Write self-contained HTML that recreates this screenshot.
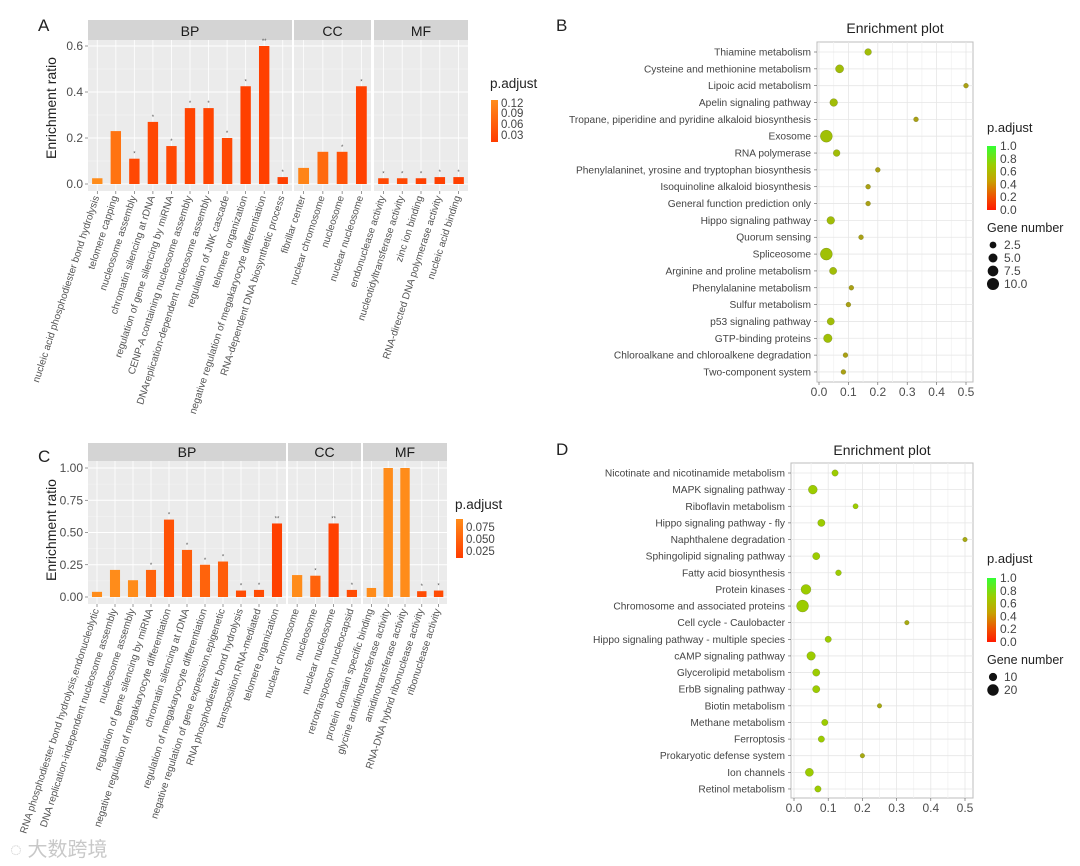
<!DOCTYPE html>
<html><head><meta charset="utf-8"><style>
body{margin:0;background:#fff;width:1080px;height:866px;overflow:hidden;font-family:"Liberation Sans","Noto Sans CJK SC",sans-serif}
svg{display:block}
</style></head><body>
<svg id="fig" width="1080" height="866" font-family="Liberation Sans, Noto Sans CJK SC, sans-serif">
<defs>
<linearGradient id="gA" x1="0" y1="0" x2="0" y2="1"><stop offset="0" stop-color="#ff8c1a"/><stop offset="1" stop-color="#ff3c00"/></linearGradient>
<linearGradient id="gG" x1="0" y1="0" x2="0" y2="1"><stop offset="0" stop-color="#33ff33"/><stop offset="0.3" stop-color="#9ccc00"/><stop offset="0.55" stop-color="#c8a000"/><stop offset="0.8" stop-color="#f05000"/><stop offset="1" stop-color="#ff1a00"/></linearGradient>
</defs>
<text x="38" y="31" font-size="17" fill="#222">A</text>
<text x="38" y="462" font-size="17" fill="#222">C</text>
<text x="556" y="31" font-size="17" fill="#222">B</text>
<text x="556" y="455" font-size="17" fill="#222">D</text>
<text x="10" y="856" font-size="20" fill="#c8c8c8">◌ 大数跨境</text>
</svg>
<script>
// ---- Panel A data ----
const aCats=[["nucleic acid phosphodiester bond hydrolysis","telomere capping","nucleosome assembly","chromatin silencing at rDNA","regulation of gene silencing by miRNA","CENP-A containing nucleosome assembly","DNAreplication-dependent nucleosome assembly","regulation of JNK cascade","telomere organization","negative regulation of megakaryocyte differentiation","RNA-dependent DNA biosynthetic process"],["fibrillar center","nuclear chromosome","nucleosome","nuclear nucleosome"],["endonuclease activity","nucleotidyltransferase activity","zinc ion binding","RNA-directed DNA polymerase activity","nucleic acid binding"]];
const aVals=[[0.025,0.23,0.11,0.27,0.165,0.33,0.33,0.2,0.425,0.6,0.03],[0.07,0.14,0.14,0.425],[0.025,0.025,0.025,0.03,0.03]];
const aPadj=[[0.12,0.09,0.04,0.04,0.04,0.035,0.035,0.04,0.03,0.02,0.03],[0.11,0.08,0.05,0.03],[0.04,0.04,0.03,0.03,0.03]];
const aTicks=[0,0.2,0.4,0.6];
const aTickLabels=["0.0","0.2","0.4","0.6"];
// ---- Panel C data ----
const cCats=[["RNA phosphodiester bond hydrolysis,endonucleolytic","DNA replication-independent nucleosome assembly","nucleosome assembly","regulation of gene silencing by miRNA","negative regulation of megakaryocyte differentiation","chromatin silencing at rDNA","regulation of megakaryocyte differentiation","negative regulation of gene expression,epigenetic","RNA phosphodiester bond hydrolysis","transposition,RNA-mediated","telomere organization"],["nuclear chromosome","nucleosome","nuclear nucleosome","retrotransposon nucleocapsid"],["protein domain specific binding","glycine amidinotransferase activity","amidinotransferase activity","RNA-DNA hybrid ribonuclease activity","ribonuclease activity"]];
const cVals=[[0.04,0.21,0.13,0.21,0.6,0.365,0.25,0.275,0.05,0.055,0.57],[0.17,0.165,0.57,0.055],[0.07,1.0,1.0,0.045,0.05]];
const cPadj=[[0.085,0.085,0.085,0.05,0.035,0.045,0.05,0.045,0.03,0.03,0.02],[0.085,0.05,0.02,0.03],[0.085,0.085,0.085,0.03,0.03]];
const cTicks=[0,0.25,0.5,0.75,1.0];
const cTickLabels=["0.00","0.25","0.50","0.75","1.00"];
const facetNames=["BP","CC","MF"];
// ---- Panel B data ----
const bTerms=["Thiamine metabolism","Cysteine and methionine metabolism","Lipoic acid metabolism","Apelin signaling pathway","Tropane, piperidine and pyridine alkaloid biosynthesis","Exosome","RNA polymerase","Phenylalaninet, yrosine and tryptophan biosynthesis","Isoquinoline alkaloid biosynthesis","General function prediction only","Hippo signaling pathway","Quorum sensing","Spliceosome","Arginine and proline metabolism","Phenylalanine metabolism","Sulfur metabolism","p53 signaling pathway","GTP-binding proteins","Chloroalkane and chloroalkene degradation","Two-component system"];
const bRatio=[0.167,0.07,0.5,0.05,0.33,0.025,0.06,0.2,0.167,0.167,0.04,0.143,0.025,0.048,0.11,0.1,0.04,0.03,0.09,0.083];
const bCount=[2.5,4,1,3.5,1,10,2.5,1,1,1,3.5,1,10,3,1,1,3,4.5,1,1];
const bPadj=[0.65,0.65,0.55,0.65,0.55,0.66,0.65,0.55,0.55,0.55,0.65,0.55,0.66,0.65,0.55,0.55,0.65,0.66,0.55,0.55];
// ---- Panel D data ----
const dTerms=["Nicotinate and nicotinamide metabolism","MAPK signaling pathway","Riboflavin metabolism","Hippo signaling pathway - fly","Naphthalene degradation","Sphingolipid signaling pathway","Fatty acid biosynthesis","Protein kinases","Chromosome and associated proteins","Cell cycle - Caulobacter","Hippo signaling pathway - multiple species","cAMP signaling pathway","Glycerolipid metabolism","ErbB signaling pathway","Biotin metabolism","Methane metabolism","Ferroptosis","Prokaryotic defense system","Ion channels","Retinol metabolism"];
const dRatio=[0.12,0.055,0.18,0.08,0.5,0.065,0.13,0.035,0.025,0.33,0.1,0.05,0.065,0.065,0.25,0.09,0.08,0.2,0.045,0.07];
const dCount=[6,12,4,8,3,8,5,15,22,3,6,11,8,8,3,6,6,3,10,6];
const dPadj=[0.7,0.7,0.7,0.7,0.58,0.7,0.7,0.7,0.7,0.58,0.7,0.7,0.7,0.7,0.58,0.7,0.7,0.58,0.7,0.7];

const NS="http://www.w3.org/2000/svg";
const svg=document.getElementById('fig');
function mk(tag,attrs,parent,txt){const e=document.createElementNS(NS,tag);for(const k in attrs)e.setAttribute(k,attrs[k]);if(txt!==undefined)e.textContent=txt;(parent||svg).appendChild(e);return e;}
function lerp(a,b,t){return Math.round(a+(b-a)*t);}
function orangeColor(p,pmin,pmax){let t=Math.max(0,Math.min(1,(p-pmin)/(pmax-pmin)));return `rgb(255,${lerp(64,140,t)},${lerp(0,26,t)})`;}
function rgColor(p){const stops=[[0,[255,26,0]],[0.4,[220,110,0]],[0.55,[170,160,20]],[0.7,[156,204,0]],[1,[51,255,51]]];
 for(let i=0;i<stops.length-1;i++){const[a,ca]=stops[i],[b,cb]=stops[i+1];if(p<=b){const t=(p-a)/(b-a);return `rgb(${lerp(ca[0],cb[0],t)},${lerp(ca[1],cb[1],t)},${lerp(ca[2],cb[2],t)})`;}}return 'rgb(51,255,51)';}

function barPanel(cfg){
 const g=mk('g',{});
 
 
 const y=v=>cfg.zeroY-v*cfg.scale;
 cfg.facets.forEach((f,fi)=>{
  const strip=mk('rect',{x:f[0],y:cfg.stripTop,width:f[1]-f[0],height:cfg.plotTop-cfg.stripTop,fill:'#d4d4d4'},g);
  
  
  const st=mk('text',{x:(f[0]+f[1])/2,y:cfg.plotTop-4,'font-size':14,'text-anchor':'middle',fill:'#1a1a1a'},g,facetNames[fi]);
  
  
  const bg=mk('rect',{x:f[0],y:cfg.plotTop,width:f[1]-f[0],height:cfg.plotBottom-cfg.plotTop,fill:'#ebebeb'},g);
  
  
  for(let i=0;i<cfg.ticks.length;i++){
   mk('line',{x1:f[0],x2:f[1],y1:y(cfg.ticks[i]),y2:y(cfg.ticks[i]),stroke:'#fff','stroke-width':1},g);
   if(i<cfg.ticks.length-1){const m=(cfg.ticks[i]+cfg.ticks[i+1])/2;mk('line',{x1:f[0],x2:f[1],y1:y(m),y2:y(m),stroke:'#f5f5f5','stroke-width':0.6},g);}
  }
  const n=cfg.vals[fi].length,step=(f[1]-f[0])/n;
  cfg.vals[fi].forEach((v,i)=>{
   const cx=f[0]+(i+0.5)*step;
   mk('line',{x1:cx,x2:cx,y1:cfg.plotTop,y2:cfg.plotBottom,stroke:'#fff','stroke-width':0.8},g);
   const bw=step*0.56;
   const r=mk('rect',{x:cx-bw/2,y:y(v),width:bw,height:v*cfg.scale,fill:orangeColor(cfg.padj[fi][i],cfg.pmin,cfg.pmax)},g);
   
   
   if(cfg.padj[fi][i]<=0.05){const s=mk('text',{x:cx,y:y(v)-3,'font-size':6,'text-anchor':'middle',fill:'#555'},g,cfg.padj[fi][i]<=0.025?'**':'*');
    
    }
   mk('line',{x1:cx,x2:cx,y1:cfg.plotBottom,y2:cfg.plotBottom+3,stroke:'#555','stroke-width':0.6},g);
   const lx=cx+2,ly=cfg.plotBottom+6;
   const t=mk('text',{x:lx,y:ly,'font-size':10,'text-anchor':'end',fill:'#555',transform:`rotate(-72 ${lx} ${ly})`},g,cfg.cats[fi][i]);
   
   
  });
 });
 cfg.ticks.forEach((tv,i)=>{
  const t=mk('text',{x:cfg.facets[0][0]-5,y:y(tv)+4,'font-size':12,'text-anchor':'end',fill:'#4d4d4d'},g,cfg.tickLabels[i]);
  
  
  mk('line',{x1:cfg.facets[0][0]-3,x2:cfg.facets[0][0],y1:y(tv),y2:y(tv),stroke:'#555','stroke-width':0.6},g);
 });
 const yt=mk('text',{x:cfg.ytX,y:cfg.ytY,'font-size':14,'text-anchor':'middle',fill:'#222',transform:`rotate(-90 ${cfg.ytX} ${cfg.ytY})`},g,'Enrichment ratio');
 
 
 const lg=mk('g',{},g);
 
 
 mk('text',{x:cfg.leg.x-1,y:cfg.leg.ty,'font-size':13.5,fill:'#222'},lg,'p.adjust');
 mk('rect',{x:cfg.leg.x,y:cfg.leg.y0,width:7,height:cfg.leg.y1-cfg.leg.y0,fill:'url(#gA)'},lg);
 cfg.leg.labels.forEach((l,i)=>mk('text',{x:cfg.leg.x+10,y:cfg.leg.ly[i],'font-size':11.5,fill:'#444'},lg,l));
}

barPanel({name:'panel-a-bar-chart',cats:aCats,vals:aVals,padj:aPadj,ticks:aTicks,tickLabels:aTickLabels,
 facets:[[88,292],[294,371],[374,468]],stripTop:20,plotTop:40,plotBottom:191,zeroY:184,scale:230,pmin:0.03,pmax:0.12,ytX:56,ytY:108,
 leg:{x:491,ty:88,y0:100,y1:142,labels:["0.12","0.09","0.06","0.03"],ly:[107,117,128,139]}});
barPanel({name:'panel-c-bar-chart',cats:cCats,vals:cVals,padj:cPadj,ticks:cTicks,tickLabels:cTickLabels,
 facets:[[88,286],[288,361],[363,447]],stripTop:443,plotTop:461,plotBottom:604,zeroY:597,scale:129,pmin:0.02,pmax:0.085,ytX:56,ytY:530,
 leg:{x:456,ty:509,y0:519,y1:558,labels:["0.075","0.050","0.025"],ly:[531,543,555]}});

function dotPanel(cfg){
 const g=mk('g',{});
 
 
 const x=v=>cfg.x0+v*cfg.xs;
 const y=i=>cfg.row0+i*cfg.rowStep;
 const ttl=mk('text',{x:(cfg.left+cfg.right)/2,y:cfg.titleY,'font-size':14,'text-anchor':'middle',fill:'#222'},g,'Enrichment plot');
 
 
 const bg=mk('rect',{x:cfg.left,y:cfg.top,width:cfg.right-cfg.left,height:cfg.bottom-cfg.top,fill:'#fff',stroke:'#bdbdbd','stroke-width':1},g);
 
 
 const xt=[0,0.1,0.2,0.3,0.4,0.5];
 for(let v=0;v<=0.5001;v+=0.05){mk('line',{x1:x(v),x2:x(v),y1:cfg.top,y2:cfg.bottom,stroke:Math.abs(v*10-Math.round(v*10))<0.01?'#e6e6e6':'#f2f2f2','stroke-width':0.8},g);}
 cfg.terms.forEach((t,i)=>{
  mk('line',{x1:cfg.left,x2:cfg.right,y1:y(i),y2:y(i),stroke:'#e6e6e6','stroke-width':0.8},g);
  const lab=mk('text',{x:cfg.left-6,y:y(i)+3.5,'font-size':10.2,'text-anchor':'end',fill:'#444'},g,t);
  
  
  mk('line',{x1:cfg.left-3,x2:cfg.left,y1:y(i),y2:y(i),stroke:'#555','stroke-width':0.6},g);
 });
 cfg.terms.forEach((t,i)=>{
  const c=mk('circle',{cx:x(cfg.ratio[i]),cy:y(i),r:cfg.rf(cfg.count[i]),fill:rgColor(cfg.padj[i]),stroke:'rgba(90,100,30,0.5)','stroke-width':0.5},g);
  
  
 });
 xt.forEach(v=>{
  mk('line',{x1:x(v),x2:x(v),y1:cfg.bottom,y2:cfg.bottom+3,stroke:'#555','stroke-width':0.6},g);
  const tl=mk('text',{x:x(v),y:cfg.bottom+14,'font-size':12,'text-anchor':'middle',fill:'#4d4d4d'},g,v.toFixed(1));
  
  
 });
 const lg=mk('g',{},g);
 
 
 const L=cfg.leg;
 mk('text',{x:L.x,y:L.ty,'font-size':13,fill:'#222'},lg,'p.adjust');
 mk('rect',{x:L.x,y:L.y0,width:9,height:L.y1-L.y0,fill:'url(#gG)'},lg);
 ["1.0","0.8","0.6","0.4","0.2","0.0"].forEach((l,i)=>mk('text',{x:L.x+13,y:L.y0+4+i*(L.y1-L.y0)/5,'font-size':12,fill:'#444'},lg,l));
 const sg=mk('g',{},g);
 
 
 mk('text',{x:L.x,y:L.gy,'font-size':12.5,fill:'#222'},sg,'Gene number');
 L.sizes.forEach((s,i)=>{mk('circle',{cx:L.x+6,cy:L.gy+13+i*13,r:cfg.rf(s),fill:'#111'},sg);
  mk('text',{x:L.x+17,y:L.gy+17+i*13,'font-size':12,fill:'#444'},sg,L.sizeLabels[i]);});
}
dotPanel({name:'panel-b-dot-plot',terms:bTerms,ratio:bRatio,count:bCount,padj:bPadj,left:817,right:973,top:42,bottom:382,x0:819,xs:294,row0:52,rowStep:16.84,titleY:33,
 rf:n=>0.8+1.65*Math.sqrt(n),leg:{x:987,ty:132,y0:146,y1:210,gy:232,sizes:[2.5,5,7.5,10],sizeLabels:["2.5","5.0","7.5","10.0"]}});
dotPanel({name:'panel-d-dot-plot',terms:dTerms,ratio:dRatio,count:dCount,padj:dPadj,left:791,right:973,top:463,bottom:798,x0:794,xs:342,row0:473,rowStep:16.63,titleY:455,
 rf:n=>0.13+1.25*Math.sqrt(n),leg:{x:987,ty:563,y0:578,y1:642,gy:664,sizes:[10,20],sizeLabels:["10","20"]}});
</script>
</body></html>
